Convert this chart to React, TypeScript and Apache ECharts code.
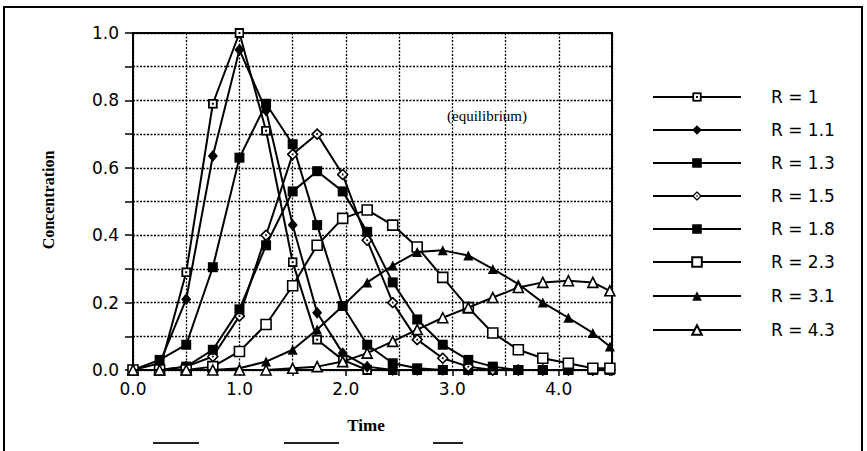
import React, { useEffect, useRef } from "react";
import * as echarts from "echarts";

// Sampling times shared by every curve
const times = [0, 0.25, 0.5, 0.75, 1.0, 1.25, 1.5, 1.73, 1.97, 2.2, 2.44, 2.67, 2.91, 3.15, 3.38, 3.62, 3.85, 4.09, 4.32, 4.48];

const seriesNames = ["R = 1", "R = 1.1", "R = 1.3", "R = 1.5", "R = 1.8", "R = 2.3", "R = 3.1", "R = 4.3"];

const r1 = [0, 0, 0.29, 0.79, 1.0, 0.71, 0.32, 0.09, 0.03, 0, 0, 0, 0, 0, 0, 0, 0, 0, 0, 0];
const r11 = [0, 0.02, 0.21, 0.635, 0.95, 0.77, 0.43, 0.17, 0.05, 0.01, 0, 0, 0, 0, 0, 0, 0, 0, 0, 0];
const r13 = [0, 0.03, 0.075, 0.305, 0.63, 0.79, 0.67, 0.43, 0.19, 0.075, 0.02, 0.005, 0, 0, 0, 0, 0, 0, 0, 0];
const r15 = [0, 0, 0.01, 0.04, 0.16, 0.4, 0.64, 0.7, 0.58, 0.385, 0.2, 0.09, 0.035, 0.01, 0, 0, 0, 0, 0, 0];
const r18 = [0, 0, 0.01, 0.06, 0.18, 0.37, 0.53, 0.59, 0.53, 0.41, 0.26, 0.15, 0.075, 0.03, 0.01, 0, 0, 0, 0, 0];
const r23 = [0, 0, 0, 0.01, 0.055, 0.135, 0.25, 0.37, 0.45, 0.475, 0.43, 0.365, 0.275, 0.185, 0.11, 0.06, 0.035, 0.02, 0.005, 0.005];
const r31 = [0, 0, 0, 0, 0.005, 0.025, 0.06, 0.12, 0.19, 0.26, 0.31, 0.35, 0.355, 0.34, 0.3, 0.255, 0.2, 0.155, 0.11, 0.07];
const r43 = [0, 0, 0, 0, 0, 0, 0.005, 0.01, 0.025, 0.05, 0.085, 0.12, 0.155, 0.185, 0.215, 0.245, 0.26, 0.265, 0.26, 0.235];

const seriesValues = [r1, r11, r13, r15, r18, r23, r31, r43];

const xTickLabels = ["0.0", "1.0", "2.0", "3.0", "4.0"];
const yTickLabels = ["0.0", "0.2", "0.4", "0.6", "0.8", "1.0"];

const svgSymbol = (svg: string) =>
  "image://data:image/svg+xml;charset=utf-8," + encodeURIComponent(svg);

// open square with a centre dot
const squareDot = svgSymbol(
  "<svg xmlns='http://www.w3.org/2000/svg' width='10' height='10' viewBox='0 0 10 10'>" +
    "<rect x='1' y='1' width='8' height='8' fill='white' stroke='black' stroke-width='2'/>" +
    "<rect x='4' y='4' width='2' height='2' fill='black'/></svg>"
);
// open diamond with a centre dot
const diamondDot = svgSymbol(
  "<svg xmlns='http://www.w3.org/2000/svg' width='12' height='12' viewBox='0 0 12 12'>" +
    "<polygon points='6,1 11,6 6,11 1,6' fill='white' stroke='black' stroke-width='1.6'/>" +
    "<rect x='5.1' y='5.1' width='1.8' height='1.8' fill='black'/></svg>"
);

const markerStyles: any[] = [
  { symbol: squareDot, symbolSize: 10, itemStyle: { color: "#000" } },
  { symbol: "diamond", symbolSize: [10, 12], itemStyle: { color: "#000" } },
  { symbol: "rect", symbolSize: 10, itemStyle: { color: "#000" } },
  { symbol: diamondDot, symbolSize: 12, itemStyle: { color: "#000" } },
  { symbol: "rect", symbolSize: 10, itemStyle: { color: "#000" } },
  { symbol: "rect", symbolSize: 10, itemStyle: { color: "#fff", borderColor: "#000", borderWidth: 1.6 } },
  { symbol: "triangle", symbolSize: 10, itemStyle: { color: "#000" } },
  { symbol: "triangle", symbolSize: 10, itemStyle: { color: "#fff", borderColor: "#000", borderWidth: 1.6 } },
];

const legendCentres = [97, 130, 163, 196, 229, 262, 296, 330];

// remnants of the lower frame edge under the axis title
const frameRemnants = [
  [153, 199],
  [284, 339],
  [433, 463],
];

export default function App() {
  const ref = useRef<HTMLDivElement>(null);

  useEffect(() => {
    if (!ref.current) return;
    const chart = echarts.init(ref.current, null, { renderer: "svg" });

    const series = seriesNames.map((name, i) => ({
      name,
      type: "line",
      data: times.map((t, k) => [t, seriesValues[i][k]]),
      lineStyle: { color: "#000", width: 2 },
      ...markerStyles[i],
      z: 2 + i,
    }));

    const legends = seriesNames.map((name, i) => ({
      data: [name],
      orient: "vertical",
      left: 652,
      top: legendCentres[i] - 9,
      padding: 0,
      itemWidth: 88,
      itemHeight: 12,
      selectedMode: false,
      textStyle: {
        color: "#000",
        fontFamily: "DejaVu Sans",
        fontSize: 17,
        lineHeight: 18,
        padding: [0, 0, 0, 25],
      },
    }));

    const gridLine = { show: true, lineStyle: { color: "#000", width: 1.3, type: [2, 1.5] } };

    chart.setOption({
      animation: false,
      backgroundColor: "#fff",
      grid: {
        left: 133,
        right: 255,
        top: 33,
        bottom: 81,
        show: true,
        borderColor: "#000",
        borderWidth: 2,
      },
      legend: legends,
      xAxis: {
        type: "value",
        min: 0,
        max: 4.5,
        interval: 0.5,
        axisLine: { lineStyle: { color: "#000", width: 2 } },
        axisTick: { length: 6, lineStyle: { color: "#000", width: 1.5 } },
        axisLabel: {
          color: "#000",
          fontFamily: "DejaVu Sans",
          fontSize: 17,
          margin: 10,
          formatter: (v: number) => {
            const s = v.toFixed(1);
            return xTickLabels.includes(s) ? s : "";
          },
        },
        splitLine: gridLine,
      },
      yAxis: {
        type: "value",
        min: 0,
        max: 1,
        interval: 0.1,
        axisLine: { show: true, lineStyle: { color: "#000", width: 2 } },
        axisTick: { show: true, length: 8, lineStyle: { color: "#000", width: 1.5 } },
        axisLabel: {
          color: "#000",
          fontFamily: "DejaVu Sans",
          fontSize: 17,
          margin: 14,
          formatter: (v: number) => {
            const s = v.toFixed(1);
            return yTickLabels.includes(s) ? s : "";
          },
        },
        splitLine: gridLine,
      },
      graphic: [
        {
          type: "rect",
          shape: { x: 4, y: 7, width: 858, height: 470 },
          style: { fill: "none", stroke: "#000", lineWidth: 2 },
          silent: true,
          z: 0,
        },
        ...frameRemnants.map(([x1, x2]) => ({
          type: "line",
          shape: { x1, y1: 443, x2, y2: 443 },
          style: { stroke: "#222", lineWidth: 2 },
          silent: true,
        })),
        {
          type: "text",
          x: 48,
          y: 200,
          rotation: Math.PI / 2,
          style: {
            text: "Concentration",
            font: "bold 16px 'Liberation Serif', 'Times New Roman', serif",
            fill: "#000",
            align: "center",
            verticalAlign: "middle",
          },
        },
        {
          type: "text",
          x: 366,
          y: 425,
          style: {
            text: "Time",
            font: "bold 17px 'Liberation Serif', 'Times New Roman', serif",
            fill: "#000",
            align: "center",
            verticalAlign: "middle",
          },
        },
        {
          type: "text",
          x: 487,
          y: 116,
          z: 100,
          style: {
            text: "(equilibrium)",
            font: "15px 'Liberation Serif', 'Times New Roman', serif",
            fill: "#000",
            align: "center",
            verticalAlign: "middle",
          },
        },
      ],
      series,
    });

    return () => chart.dispose();
  }, []);

  return (
    <div
      ref={ref}
      style={{ position: "fixed", left: 0, top: 0, width: 867, height: 451, background: "#fff" }}
    />
  );
}
